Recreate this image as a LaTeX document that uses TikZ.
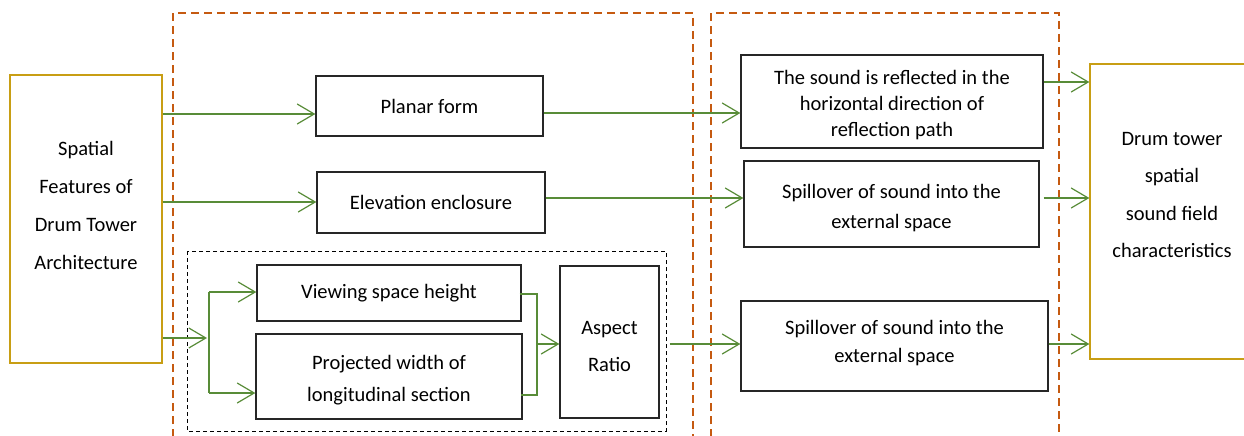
\documentclass[tikz,border=0pt]{standalone}
\usepackage{fontspec}
\setmainfont{Carlito}
\usetikzlibrary{arrows.meta}
\definecolor{arrgreen}{RGB}{88,140,56}
\definecolor{dorange}{RGB}{197,90,17}
\definecolor{gold}{RGB}{200,158,20}
\begin{document}
\begin{tikzpicture}[x=1pt,y=-1pt,
  box/.style={draw=black!85,line width=1.3pt,inner sep=0pt,align=center},
  goldbox/.style={draw=gold,line width=1.3pt,inner sep=0pt},
  lbl/.style={align=center,inner sep=0pt},
  arr/.style={draw=arrgreen,line width=1.2pt,-{Straight Barb[length=17pt,width=20pt,line width=1.2pt]}},
  gline/.style={draw=arrgreen,line width=1.2pt},
  odash/.style={draw=dorange,line width=2pt,dash pattern=on 8pt off 5pt},
  kdash/.style={draw=black,line width=1pt,dash pattern=on 4pt off 3pt},
  f1/.style={font=\fontsize{20.5}{24}\selectfont}
]
\useasboundingbox (0,0) rectangle (1244,436);
\fill[white] (0,0) rectangle (1244,436);
% orange dashed frames
\draw[odash] (173,450) -- (173,13) -- (693,13) -- (693,450);
\draw[odash] (711,450) -- (711,13) -- (1059,13) -- (1059,450);
% black dashed group
\draw[kdash] (187,251) rectangle (666,431);
% source / destination boxes
\node[goldbox,minimum width=152pt,minimum height=288pt] (src) at (86,219) {};
\node[lbl,font=\fontsize{20.5}{38}\selectfont] (srct) at (86,205) {Spatial\\Features of\\Drum Tower\\Architecture};
\node[goldbox,minimum width=160pt,minimum height=295pt] (dst) at (1170,211.5) {};
\node[lbl,font=\fontsize{20.5}{37.5}\selectfont] (dstt) at (1172,195) {Drum tower\\spatial\\sound field\\characteristics};
% middle boxes
\node[box,f1,minimum width=227pt,minimum height=60pt] (planar) at (429.5,106) {Planar form};
\node[box,f1,minimum width=228pt,minimum height=61pt] (elev) at (431,202.5) {Elevation enclosure};
\node[box,f1,minimum width=264pt,minimum height=56pt] (view) at (389,293) {Viewing space height};
\node[box,minimum width=266pt,minimum height=85pt] (proj) at (389,376.5) {};
\node[lbl,font=\fontsize{20.5}{32}\selectfont] (projt) at ([yshift=-4pt]proj.center) {Projected width of\\longitudinal section};
\node[box,minimum width=99pt,minimum height=152pt] (aspect) at (609.5,342) {};
\node[lbl,font=\fontsize{20.5}{37}\selectfont] (aspectt) at ([yshift=-4pt]aspect.center) {Aspect\\Ratio};
% right boxes
\node[box,minimum width=302pt,minimum height=93pt] (refl) at (892,101.5) {};
\node[lbl,font=\fontsize{20.5}{26}\selectfont] (reflt) at ([yshift=-4pt]refl.center) {The sound is reflected in the\\horizontal direction of\\reflection path};
\node[box,minimum width=295pt,minimum height=86pt] (spill1) at (891.5,204) {};
\node[lbl,font=\fontsize{20.5}{30}\selectfont] (spill1t) at ([yshift=-4pt]spill1.center) {Spillover of sound into the\\external space};
\node[box,minimum width=307pt,minimum height=90pt] (spill2) at (894.5,346) {};
\node[lbl,font=\fontsize{20.5}{28}\selectfont] (spill2t) at ([yshift=3pt]spill2.center) {Spillover of sound into the\\external space};
% connectors
\draw[arr] (src.east |- 0,114) -- (planar.west |- 0,114);
\draw[arr] (src.east |- 0,202) -- (elev.west |- 0,202);
\coordinate (j) at (209,338);
\draw[arr] (src.east |- j) -- ([xshift=-2pt]j);
\draw[gline] (j |- 0,292) -- (j |- 0,393);
\draw[arr] (j |- 0,292) -- (view.west |- 0,292);
\draw[arr] (j |- 0,393) -- (proj.west |- 0,393);
\coordinate (m) at (537,344);
\draw[gline] ([xshift=-2pt]view.east |- 0,294) -| (m |- 0,395) -- ([xshift=-2pt]proj.east |- 0,395);
\draw[arr] (m) -- (aspect.west |- m);
\draw[arr] ([xshift=10pt]aspect.east |- 0,344) -- (spill2.west |- 0,344);
\draw[arr] (planar.east |- 0,113) -- (refl.west |- 0,113);
\draw[arr] (elev.east |- 0,198) -- (spill1.west |- 0,198);
\draw[arr] (refl.east |- 0,82) -- (dst.west |- 0,82);
\draw[arr] ([xshift=4pt]spill1.east |- 0,198) -- (dst.west |- 0,198);
\draw[arr] (spill2.east |- 0,344) -- (dst.west |- 0,344);
\end{tikzpicture}
\end{document}
